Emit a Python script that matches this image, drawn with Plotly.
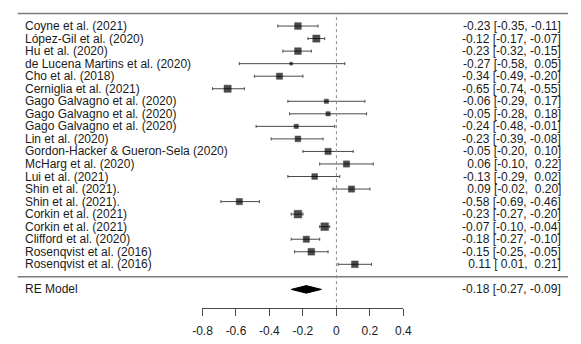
import plotly.graph_objects as go

# ---------------- data ----------------
studies = [
    "Coyne et al. (2021)",
    "López-Gil et al. (2020)",
    "Hu et al. (2020)",
    "de Lucena Martins et al. (2020)",
    "Cho et al. (2018)",
    "Cerniglia et al. (2021)",
    "Gago Galvagno et al. (2020)",
    "Gago Galvagno et al. (2020)",
    "Gago Galvagno et al. (2020)",
    "Lin et al. (2020)",
    "Gordon-Hacker & Gueron-Sela (2020)",
    "McHarg et al. (2020)",
    "Lui et al. (2021)",
    "Shin et al. (2021).",
    "Shin et al. (2021).",
    "Corkin et al. (2021)",
    "Corkin et al. (2021)",
    "Clifford et al. (2020)",
    "Rosenqvist et al. (2016)",
    "Rosenqvist et al. (2016)",
]
estimates = [-0.23, -0.12, -0.23, -0.27, -0.34, -0.65, -0.06, -0.05, -0.24, -0.23,
             -0.05, 0.06, -0.13, 0.09, -0.58, -0.23, -0.07, -0.18, -0.15, 0.11]
ci_lower = [-0.35, -0.17, -0.32, -0.58, -0.49, -0.74, -0.29, -0.28, -0.48, -0.39,
            -0.20, -0.10, -0.29, -0.02, -0.69, -0.27, -0.10, -0.27, -0.25, 0.01]
ci_upper = [-0.11, -0.07, -0.15, 0.05, -0.20, -0.55, 0.17, 0.18, -0.01, -0.08,
            0.10, 0.22, 0.02, 0.20, -0.46, -0.20, -0.04, -0.10, -0.05, 0.21]
weights = [5.6, 6.0, 5.6, 2.4, 5.2, 6.0, 3.6, 3.6, 3.6, 4.8,
           5.2, 5.2, 4.8, 5.2, 5.2, 6.4, 6.4, 5.2, 5.6, 5.6]

re_label = "RE Model"
re_est, re_lower, re_upper = -0.18, -0.27, -0.09

tick_values = [-0.8, -0.6, -0.4, -0.2, 0, 0.2, 0.4]
tick_labels = ["-0.8", "-0.6", "-0.4", "-0.2", "0", "0.2", "0.4"]

# ---------------- layout helpers ----------------
W, H = 581, 344
FONT = "Liberation Sans, Arial, sans-serif"
TXT = "#1a1a1a"
k = len(studies)
rows = [k - i for i in range(k)]        # top study at row k, bottom at row 1
re_row = -1


def px_x(x_ref):
    return x_ref / W


def fmt(v):
    s = f"{v:.2f}"
    return ("\u00a0" + s) if v >= 0 else s


def ci_text(e, lo, hi):
    return f"{fmt(e)} [{fmt(lo)}, {fmt(hi)}]"


fig = go.Figure()

# confidence intervals (drawn first, underneath squares)
fig.add_trace(go.Scatter(
    x=estimates, y=rows, mode="markers",
    marker=dict(color="rgba(0,0,0,0)", size=1),
    error_x=dict(type="data", symmetric=False,
                 array=[h - e for h, e in zip(ci_upper, estimates)],
                 arrayminus=[e - l for e, l in zip(estimates, ci_lower)],
                 color="#4a4a4a", thickness=1, width=1.5),
    hoverinfo="skip", showlegend=False, cliponaxis=False,
))
# study squares
fig.add_trace(go.Scatter(
    x=estimates, y=rows, mode="markers",
    marker=dict(symbol="square", color="black",
                size=[w * 1.2 for w in weights],
                line=dict(width=0.5, color="black")),
    hoverinfo="skip", showlegend=False, cliponaxis=False,
))

# summary diamond
dh = 0.3
fig.add_trace(go.Scatter(
    x=[re_lower, re_est, re_upper, re_est, re_lower],
    y=[re_row, re_row + dh, re_row, re_row - dh, re_row],
    mode="lines", fill="toself", fillcolor="black",
    line=dict(color="black", width=1),
    hoverinfo="skip", showlegend=False,
))

shapes = [
    # top and separator lines
    dict(type="line", xref="paper", yref="y", x0=px_x(8), x1=px_x(577),
         y0=k + 1, y1=k + 1, line=dict(color="#7a7a7a", width=1.5)),
    dict(type="line", xref="paper", yref="y", x0=px_x(8), x1=px_x(577),
         y0=0, y1=0, line=dict(color="#7a7a7a", width=1.5)),
    # reference line at 0
    dict(type="line", xref="x", yref="y", x0=0, x1=0,
         y0=-2.5, y1=k + 1, line=dict(color="#8a8a8a", width=1, dash="dot")),
]

annotations = []


def add_row_text(left, right, r):
    annotations.append(dict(text=left, xref="paper", yref="y", x=px_x(15.5), y=r,
                            xanchor="left", yanchor="middle", showarrow=False,
                            borderpad=0, borderwidth=0,
                            font=dict(family=FONT, size=12, color=TXT)))
    annotations.append(dict(text=right, xref="paper", yref="y", x=px_x(569.5), y=r,
                            xanchor="right", yanchor="middle", showarrow=False,
                            borderpad=0, borderwidth=0,
                            font=dict(family=FONT, size=12, color=TXT)))


for lab, r, e, lo, hi in zip(studies, rows, estimates, ci_lower, ci_upper):
    add_row_text(lab, ci_text(e, lo, hi), r)
add_row_text(re_label, ci_text(re_est, re_lower, re_upper), re_row)

# reference pixel mapping: row r at y = 264.3 - 12.54*(r-1); axis line at y = 308
ROW_Y1, ROW_STEP, AXIS_Y = 264.3, 12.54, 308
top_row = 1 + ROW_Y1 / ROW_STEP
bot_row = 1 - (AXIS_Y - ROW_Y1) / ROW_STEP

fig.update_layout(
    width=W, height=H, autosize=False,
    margin=dict(l=0, r=0, t=0, b=H - AXIS_Y, pad=0),
    paper_bgcolor="white", plot_bgcolor="white",
    font=dict(family=FONT, size=12, color=TXT),
    xaxis=dict(domain=[px_x(199), px_x(406.7)], range=[-0.8, 0.4],
               tickvals=tick_values, ticktext=tick_labels,
               showline=True, linecolor="#4a4a4a", linewidth=1,
               ticks="outside", ticklen=7, tickcolor="#4a4a4a", tickwidth=1,
               ticklabelstandoff=5,
               showgrid=False, zeroline=False, fixedrange=True,
               tickfont=dict(family=FONT, size=12, color=TXT)),
    yaxis=dict(range=[bot_row, top_row], visible=False, showgrid=False,
               zeroline=False, fixedrange=True),
    shapes=shapes, annotations=annotations,
)

# remove the browser's default 8px page margin so the figure sits at (0, 0)
fig.write_html(
    "out.html",
    config={"responsive": False, "displayModeBar": False},
    post_script="document.body.style.margin='0';document.body.style.overflow='hidden';",
)
